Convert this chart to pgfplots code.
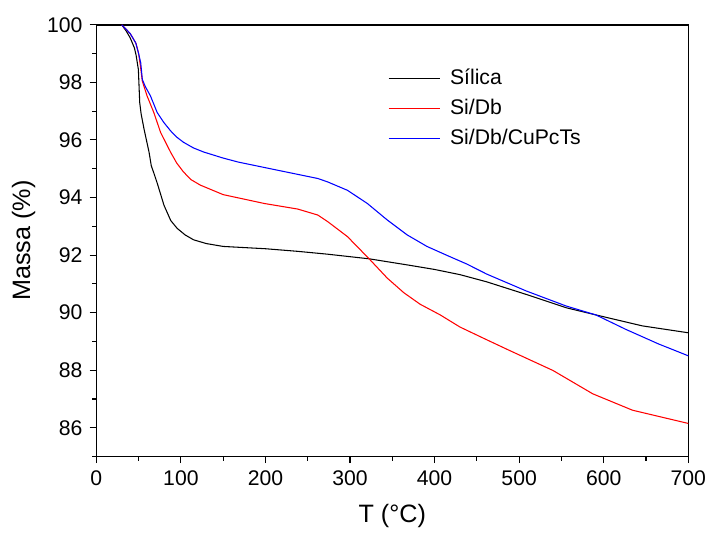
\documentclass[border=0pt]{standalone}
\usepackage{pgfplots}
\pgfplotsset{compat=1.18}
\usepackage{fontspec}
\setmainfont{Liberation Sans}
\begin{document}
\fontsize{16}{19}\selectfont
\begin{tikzpicture}
\begin{axis}[
  scale only axis,
  width=447pt, height=326pt,
  xmin=0, xmax=700, ymin=85, ymax=100,
  xtick={0,100,...,700},
  minor xtick={50,150,...,650},
  ytick={86,88,...,100},
  minor ytick={85,87,...,99},
  tick align=outside,
  tick pos=left,
  major tick length=5pt,
  minor tick length=3pt,
  every tick/.style={black, line width=0.8pt},
  axis line style={line width=1.1pt},
  /pgf/number format/assume math mode=true,
  ticklabel style={font=\fontsize{16}{19}\selectfont},
  label style={font=\fontsize{19}{22}\selectfont},
  xlabel={T (°C)},
  ylabel={Massa (\%)},
  xlabel style={yshift=-3.5pt},
  ylabel style={yshift=-2pt},
  legend style={draw=none, fill=none, at={(axis cs:340,98.65)}, anchor=north west,
    font=\fontsize{16}{19}\selectfont, row sep=4.5pt},
  legend cell align=left,
  legend image code/.code={\draw[#1] (0pt,0pt) -- (39pt,0pt); \path (44pt,0pt);},
]
\addplot[black, line width=0.8pt] coordinates {
(30,100)(35,99.8)(40,99.55)(45,99.2)(47,98.95)(49.7,98.45)(51.3,97.3)(53,96.9)
(56.4,96.38)(62.3,95.58)(65,95.1)(68,94.85)(72,94.5)(80,93.73)(88,93.2)(95.5,92.93)
(105,92.7)(115,92.53)(130,92.4)(150,92.3)(200,92.22)(238,92.13)(273.7,92.03)(322.6,91.87)
(371.5,91.64)(400,91.5)(430,91.32)(461.6,91.07)(508.6,90.63)(555.6,90.17)(590.8,89.92)
(645.6,89.54)(700,89.3)
};
\addlegendentry{Sílica}
\addplot[red, line width=0.8pt] coordinates {
(30,100)(40,99.7)(47,99.35)(50,99.0)(52,98.6)(54.4,98.04)(60,97.53)(68,96.95)(76,96.26)
(87.7,95.58)(95,95.2)(103,94.89)(112,94.62)(123,94.43)(150,94.1)(199,93.79)(238,93.6)
(262,93.39)(273.7,93.16)(297,92.64)(322.6,91.87)(344,91.2)(363.7,90.69)(383,90.29)
(406.7,89.92)(430,89.5)(460,89.08)
(489,88.68)(540,87.99)(587,87.18)(634,86.61)(700,86.15)
};
\addlegendentry{Si/Db}
\addplot[blue, line width=0.8pt] coordinates {
(30,100)(40,99.7)(46.6,99.37)(50,99.0)(52.5,98.68)(54.4,98.1)(58,97.85)(64,97.53)(72,96.95)
(80,96.6)(87.7,96.32)(95,96.1)(103,95.92)(115,95.72)(127,95.58)(150,95.37)(168,95.23)
(219,94.92)(262,94.66)(273.7,94.54)(297,94.25)(320.6,93.79)(344,93.22)(367.6,92.70)
(391,92.30)(414.6,91.99)(438,91.69)(461.6,91.34)(508.6,90.75)(555.6,90.23)(590.8,89.92)
(626,89.42)(665,88.91)(700,88.5)
};
\addlegendentry{Si/Db/CuPcTs}
\end{axis}
\path ([xshift=-72.75pt,yshift=-58.5pt]current axis.south west) rectangle ([xshift=15pt,yshift=18.75pt]current axis.north east);
\end{tikzpicture}
\end{document}
